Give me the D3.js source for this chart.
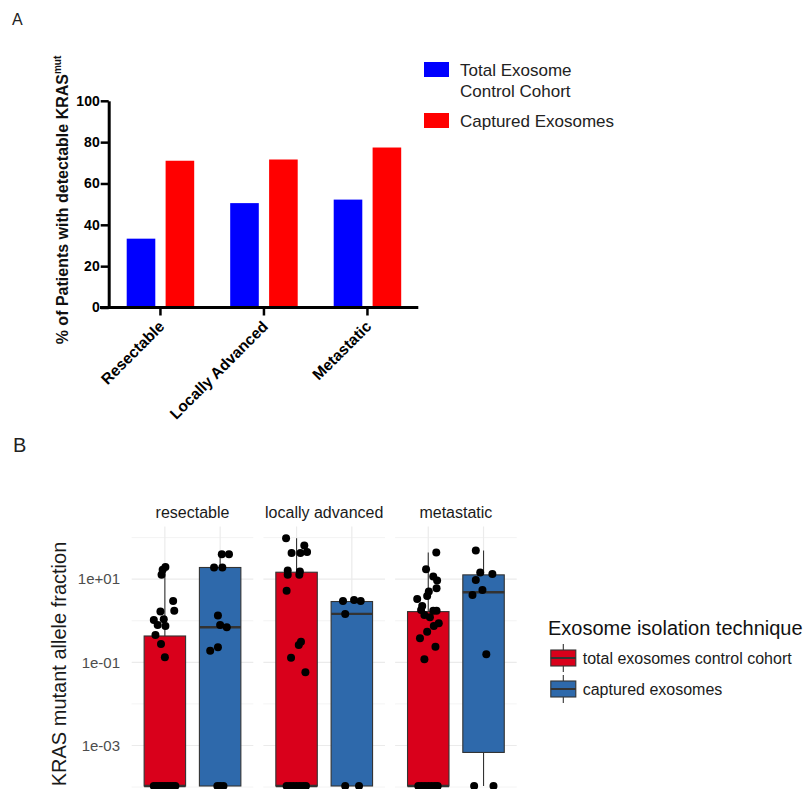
<!DOCTYPE html>
<html>
<head>
<meta charset="utf-8">
<script src="https://cdn.jsdelivr.net/npm/d3@7"></script>
<style>
  body { margin: 0; background: #fff; }
  svg text { font-family: "Liberation Sans", Arial, Helvetica, sans-serif; }
</style>
</head>
<body>
<svg id="chart" width="807" height="789"></svg>
<script>
// ---------- Panel A data ----------
const stagesA = ["Resectable", "Locally Advanced", "Metastatic"];
const seriesA = ["Total Exosome Control Cohort", "Captured Exosomes"];
const totalControlPct = [33.3, 50.5, 52.2];
const capturedPct = [71.0, 71.6, 77.4];
const yTicksA = [0, 20, 40, 60, 80, 100];

// ---------- Panel B data ----------
const facetsB = ["resectable", "locally advanced", "metastatic"];
const groupsB = ["total exosomes control cohort", "captured exosomes"];
const yTicksB = [1e1, 1e-1, 1e-3];
const yTickLabelsB = ["1e+01", "1e-01", "1e-03"];
const yMinorB = [1e2, 1e0, 1e-2, 1e-4];

// box statistics [facet][group]; 0 = undetectable, drawn at the panel bottom
const upperWhisker = [[19.5, 40], [97, 2.9], [43.7, 48.9]];
const upperHinge   = [[0.43, 19.1], [14.7, 2.9], [1.66, 12.7]];
const medianB      = [[0, 0.70], [0, 1.46], [0, 4.86]];
const lowerHinge   = [[0, 0], [0, 0], [0, 0.00068]];

// points: [value, horizontal jitter in category units]
const resectableTotal = [[19.5, 0.01], [16.8, -0.04], [12.7, -0.06], [3.0, 0.15], [1.75, 0.17],
  [1.66, -0.08], [1.04, -0.2], [1.09, -0.02], [0.79, -0.13], [0.75, 0.01], [0.455, -0.17],
  [0.276, -0.07], [0.132, 0], [0, -0.2], [0, -0.15], [0, -0.1], [0, -0.05], [0, 0], [0, 0.05],
  [0, 0.1], [0, 0.15], [0, 0.19]];
const resectableCaptured = [[40, 0.03], [40, 0.16], [19.1, -0.11], [19.1, 0.04], [1.33, -0.04],
  [0.79, 0], [0.70, 0.12], [0.23, -0.04], [0.19, -0.18], [0, -0.05], [0, 0], [0, 0.06]];
const locallyTotal = [[97, -0.19], [64.6, 0.14], [42.4, -0.09], [42.4, 0.07], [44.8, 0.19],
  [16.1, -0.16], [15.2, 0.06], [12.7, -0.16], [12.7, 0.05], [5.3, -0.18], [0.313, 0.08],
  [0.261, 0.04], [0.129, -0.1], [0.0574, 0.16], [0, -0.18], [0, -0.12], [0, -0.06], [0, 0],
  [0, 0.06], [0, 0.12], [0, 0.17]];
const locallyCaptured = [[3.0, -0.16], [3.17, 0.04], [3.0, 0.16], [1.46, -0.12], [0, -0.12], [0, 0.13]];
const metastaticTotal = [[43.7, 0.145], [17.4, -0.04], [11.6, 0.09], [9.25, 0.16], [6.07, 0.15],
  [5.03, 0.01], [3.96, -0.02], [3.35, -0.2], [2.27, -0.11], [1.82, -0.13], [1.75, 0.09],
  [1.75, 0.15], [1.38, -0.07], [1.21, 0.03], [0.87, 0.19], [0.75, 0.1], [0.546, -0.02],
  [0.378, -0.15], [0.238, 0.13], [0.118, -0.07], [0, -0.18], [0, -0.12], [0, -0.06], [0, 0],
  [0, 0.06], [0, 0.12], [0, 0.17]];
const metastaticCaptured = [[48.9, -0.14], [14.4, -0.06], [13.4, 0.16], [9.6, -0.14], [5.5, -0.02],
  [4.19, -0.2], [0.156, 0.05], [0, -0.17], [0, 0.18]];
const pointsB = [[resectableTotal, resectableCaptured], [locallyTotal, locallyCaptured],
  [metastaticTotal, metastaticCaptured]];

const colorsA = ["#0000ff", "#ff0000"];
const colorsB = ["#d9001b", "#2e69ab"];

const svg = d3.select("#chart");

// ================= Panel A =================
svg.append("text").attr("x", 12).attr("y", 24.5)
  .style("font-size", "16px").attr("fill", "#222").text("A");

const xA = d3.scaleBand().domain(stagesA).range([108.7, 419.2]);
const xAInner = d3.scaleBand().domain(seriesA).range([18, 85.5]).paddingInner(0.265);
const yA = d3.scaleLinear().domain([0, 100]).range([307.5, 100.8]);

const gA = svg.append("g");
[totalControlPct, capturedPct].forEach((vals, s) => {
  gA.selectAll(".bar-" + s)
    .data(stagesA)
    .join("rect")
    .attr("class", "bar-" + s)
    .attr("x", d => xA(d) + xAInner(seriesA[s]))
    .attr("y", (d, i) => yA(vals[i]))
    .attr("width", xAInner.bandwidth())
    .attr("height", (d, i) => yA(0) - yA(vals[i]))
    .attr("fill", colorsA[s]);
});

// y axis
const yAxisA = gA.append("g")
  .attr("transform", "translate(108.7,0)")
  .call(d3.axisLeft(yA).tickValues(yTicksA).tickSize(8).tickSizeOuter(0).tickPadding(1));
yAxisA.select(".domain").attr("stroke", "#000").attr("stroke-width", 3);
yAxisA.selectAll(".tick line").attr("stroke", "#000").attr("stroke-width", 2.5);
yAxisA.selectAll(".tick text").attr("fill", "#000")
  .style("font-size", "14px").style("font-weight", "bold");

// x axis
const xAxisA = gA.append("g")
  .attr("transform", `translate(0,${yA(0)})`)
  .call(d3.axisBottom(xA).tickSize(8).tickSizeOuter(0));
xAxisA.select(".domain").remove();
xAxisA.append("line").attr("x1", 100).attr("x2", 418.3)
  .attr("stroke", "#000").attr("stroke-width", 3);
xAxisA.selectAll(".tick line").attr("stroke", "#000").attr("stroke-width", 2.5);
xAxisA.selectAll(".tick text")
  .attr("x", 0).attr("y", 0).attr("dy", 0)
  .attr("text-anchor", "end")
  .attr("transform", "translate(5,20) rotate(-45)")
  .attr("fill", "#000")
  .style("font-size", "15.5px").style("font-weight", "bold");

// y title with superscript
const titleA = gA.append("text")
  .attr("transform", "translate(67.5,200) rotate(-90)")
  .attr("text-anchor", "middle")
  .attr("fill", "#111")
  .style("font-size", "16px").style("font-weight", "bold");
titleA.append("tspan").text("% of Patients with detectable KRAS");
titleA.append("tspan").attr("dy", -7).style("font-size", "10px").text("mut");

// legend A
const legA = svg.append("g").attr("transform", "translate(424,0)");
const legAItems = [
  { lines: ["Total Exosome", "Control Cohort"], y: 62 },
  { lines: ["Captured Exosomes"], y: 113 }
];
legAItems.forEach((d, i) => {
  legA.append("rect").attr("x", 0).attr("y", d.y).attr("width", 25).attr("height", 15)
    .attr("fill", colorsA[i]);
  d.lines.forEach((t, j) => {
    legA.append("text").attr("x", 36).attr("y", d.y + 14 + j * 21)
      .attr("fill", "#222").style("font-size", "17px").text(t);
  });
});

// ================= Panel B =================
svg.append("text").attr("x", 13).attr("y", 451.5)
  .style("font-size", "20px").attr("fill", "#222").text("B");

const fx = d3.scaleBand().domain(facetsB).range([131.7, 516.7]).paddingInner(0.0767);
const gx = d3.scalePoint().domain(groupsB).range([0, fx.bandwidth()]).padding(0.6);
const unit = gx.step();
const yB = d3.scaleLog().domain([1.06e-4, 185]).range([786, 526.5]);
const yBottom = yB.range()[0];
const yPos = v => v > 0 ? yB(v) : yBottom;
const boxW = 0.75 * unit;

const gB = svg.append("g");

facetsB.forEach((f, fi) => {
  const px = fx(f);
  const panel = gB.append("g").attr("transform", `translate(${px},0)`);

  // grid
  panel.selectAll(".minor").data(yMinorB).join("line")
    .attr("x1", 0).attr("x2", fx.bandwidth())
    .attr("y1", d => yB(d)).attr("y2", d => yB(d))
    .attr("stroke", "#ebebeb").attr("stroke-width", 0.6);
  panel.selectAll(".major").data(yTicksB).join("line")
    .attr("x1", 0).attr("x2", fx.bandwidth())
    .attr("y1", d => yB(d)).attr("y2", d => yB(d))
    .attr("stroke", "#ebebeb").attr("stroke-width", 1.2);
  panel.selectAll(".vgrid").data(groupsB).join("line")
    .attr("x1", d => gx(d)).attr("x2", d => gx(d))
    .attr("y1", yB.range()[1]).attr("y2", yBottom)
    .attr("stroke", "#ebebeb").attr("stroke-width", 1.2);

  // strip label
  panel.append("text")
    .attr("x", fx.bandwidth() / 2).attr("y", 517.5)
    .attr("text-anchor", "middle")
    .attr("fill", "#1a1a1a").style("font-size", "16px").text(f);

  groupsB.forEach((g, gi) => {
    const cx = gx(g);
    // whiskers
    panel.append("line")
      .attr("x1", cx).attr("x2", cx)
      .attr("y1", yPos(upperWhisker[fi][gi])).attr("y2", yPos(upperHinge[fi][gi]))
      .attr("stroke", "#333").attr("stroke-width", 1.1);
    panel.append("line")
      .attr("x1", cx).attr("x2", cx)
      .attr("y1", yPos(lowerHinge[fi][gi])).attr("y2", yBottom)
      .attr("stroke", "#333").attr("stroke-width", 1.1);
    // box
    panel.append("rect")
      .attr("x", cx - boxW / 2).attr("width", boxW)
      .attr("y", yPos(upperHinge[fi][gi]))
      .attr("height", yPos(lowerHinge[fi][gi]) - yPos(upperHinge[fi][gi]))
      .attr("fill", colorsB[gi]).attr("stroke", "#333").attr("stroke-width", 1.1);
    // median
    panel.append("line")
      .attr("x1", cx - boxW / 2).attr("x2", cx + boxW / 2)
      .attr("y1", yPos(medianB[fi][gi])).attr("y2", yPos(medianB[fi][gi]))
      .attr("stroke", "#333").attr("stroke-width", 2.4);
    // points
    panel.selectAll(".pt-" + gi).data(pointsB[fi][gi]).join("circle")
      .attr("class", "pt-" + gi)
      .attr("cx", d => cx + d[1] * unit)
      .attr("cy", d => yPos(d[0]))
      .attr("r", 4)
      .attr("fill", "#000");
  });
});

// y axis labels B
gB.selectAll(".ytickB").data(yTicksB).join("text")
  .attr("x", 120).attr("y", d => yB(d))
  .attr("dy", "0.35em")
  .attr("text-anchor", "end")
  .attr("fill", "#4d4d4d").style("font-size", "15px")
  .text((d, i) => yTickLabelsB[i]);

gB.append("text")
  .attr("transform", "translate(65.5,664) rotate(-90)")
  .attr("text-anchor", "middle")
  .attr("fill", "#1a1a1a").style("font-size", "20px")
  .text("KRAS mutant allele fraction");

// legend B
const legB = svg.append("g");
legB.append("text").attr("x", 548).attr("y", 635)
  .attr("fill", "#111").style("font-size", "20px").text("Exosome isolation technique");
const keyY = [658, 689];
groupsB.forEach((g, i) => {
  const k = legB.append("g").attr("transform", `translate(563.3,${keyY[i]})`);
  k.append("line").attr("x1", 0).attr("x2", 0).attr("y1", -14).attr("y2", 14)
    .attr("stroke", "#333").attr("stroke-width", 1.1);
  k.append("rect").attr("x", -12.5).attr("y", -8).attr("width", 25).attr("height", 16)
    .attr("fill", colorsB[i]).attr("stroke", "#333").attr("stroke-width", 1.1);
  k.append("line").attr("x1", -12.5).attr("x2", 12.5).attr("y1", 0).attr("y2", 0)
    .attr("stroke", "#333").attr("stroke-width", 2);
  legB.append("text").attr("x", 582.7).attr("y", keyY[i]).attr("dy", "0.35em")
    .attr("fill", "#1a1a1a").style("font-size", "16px").text(g);
});
</script>
</body>
</html>
